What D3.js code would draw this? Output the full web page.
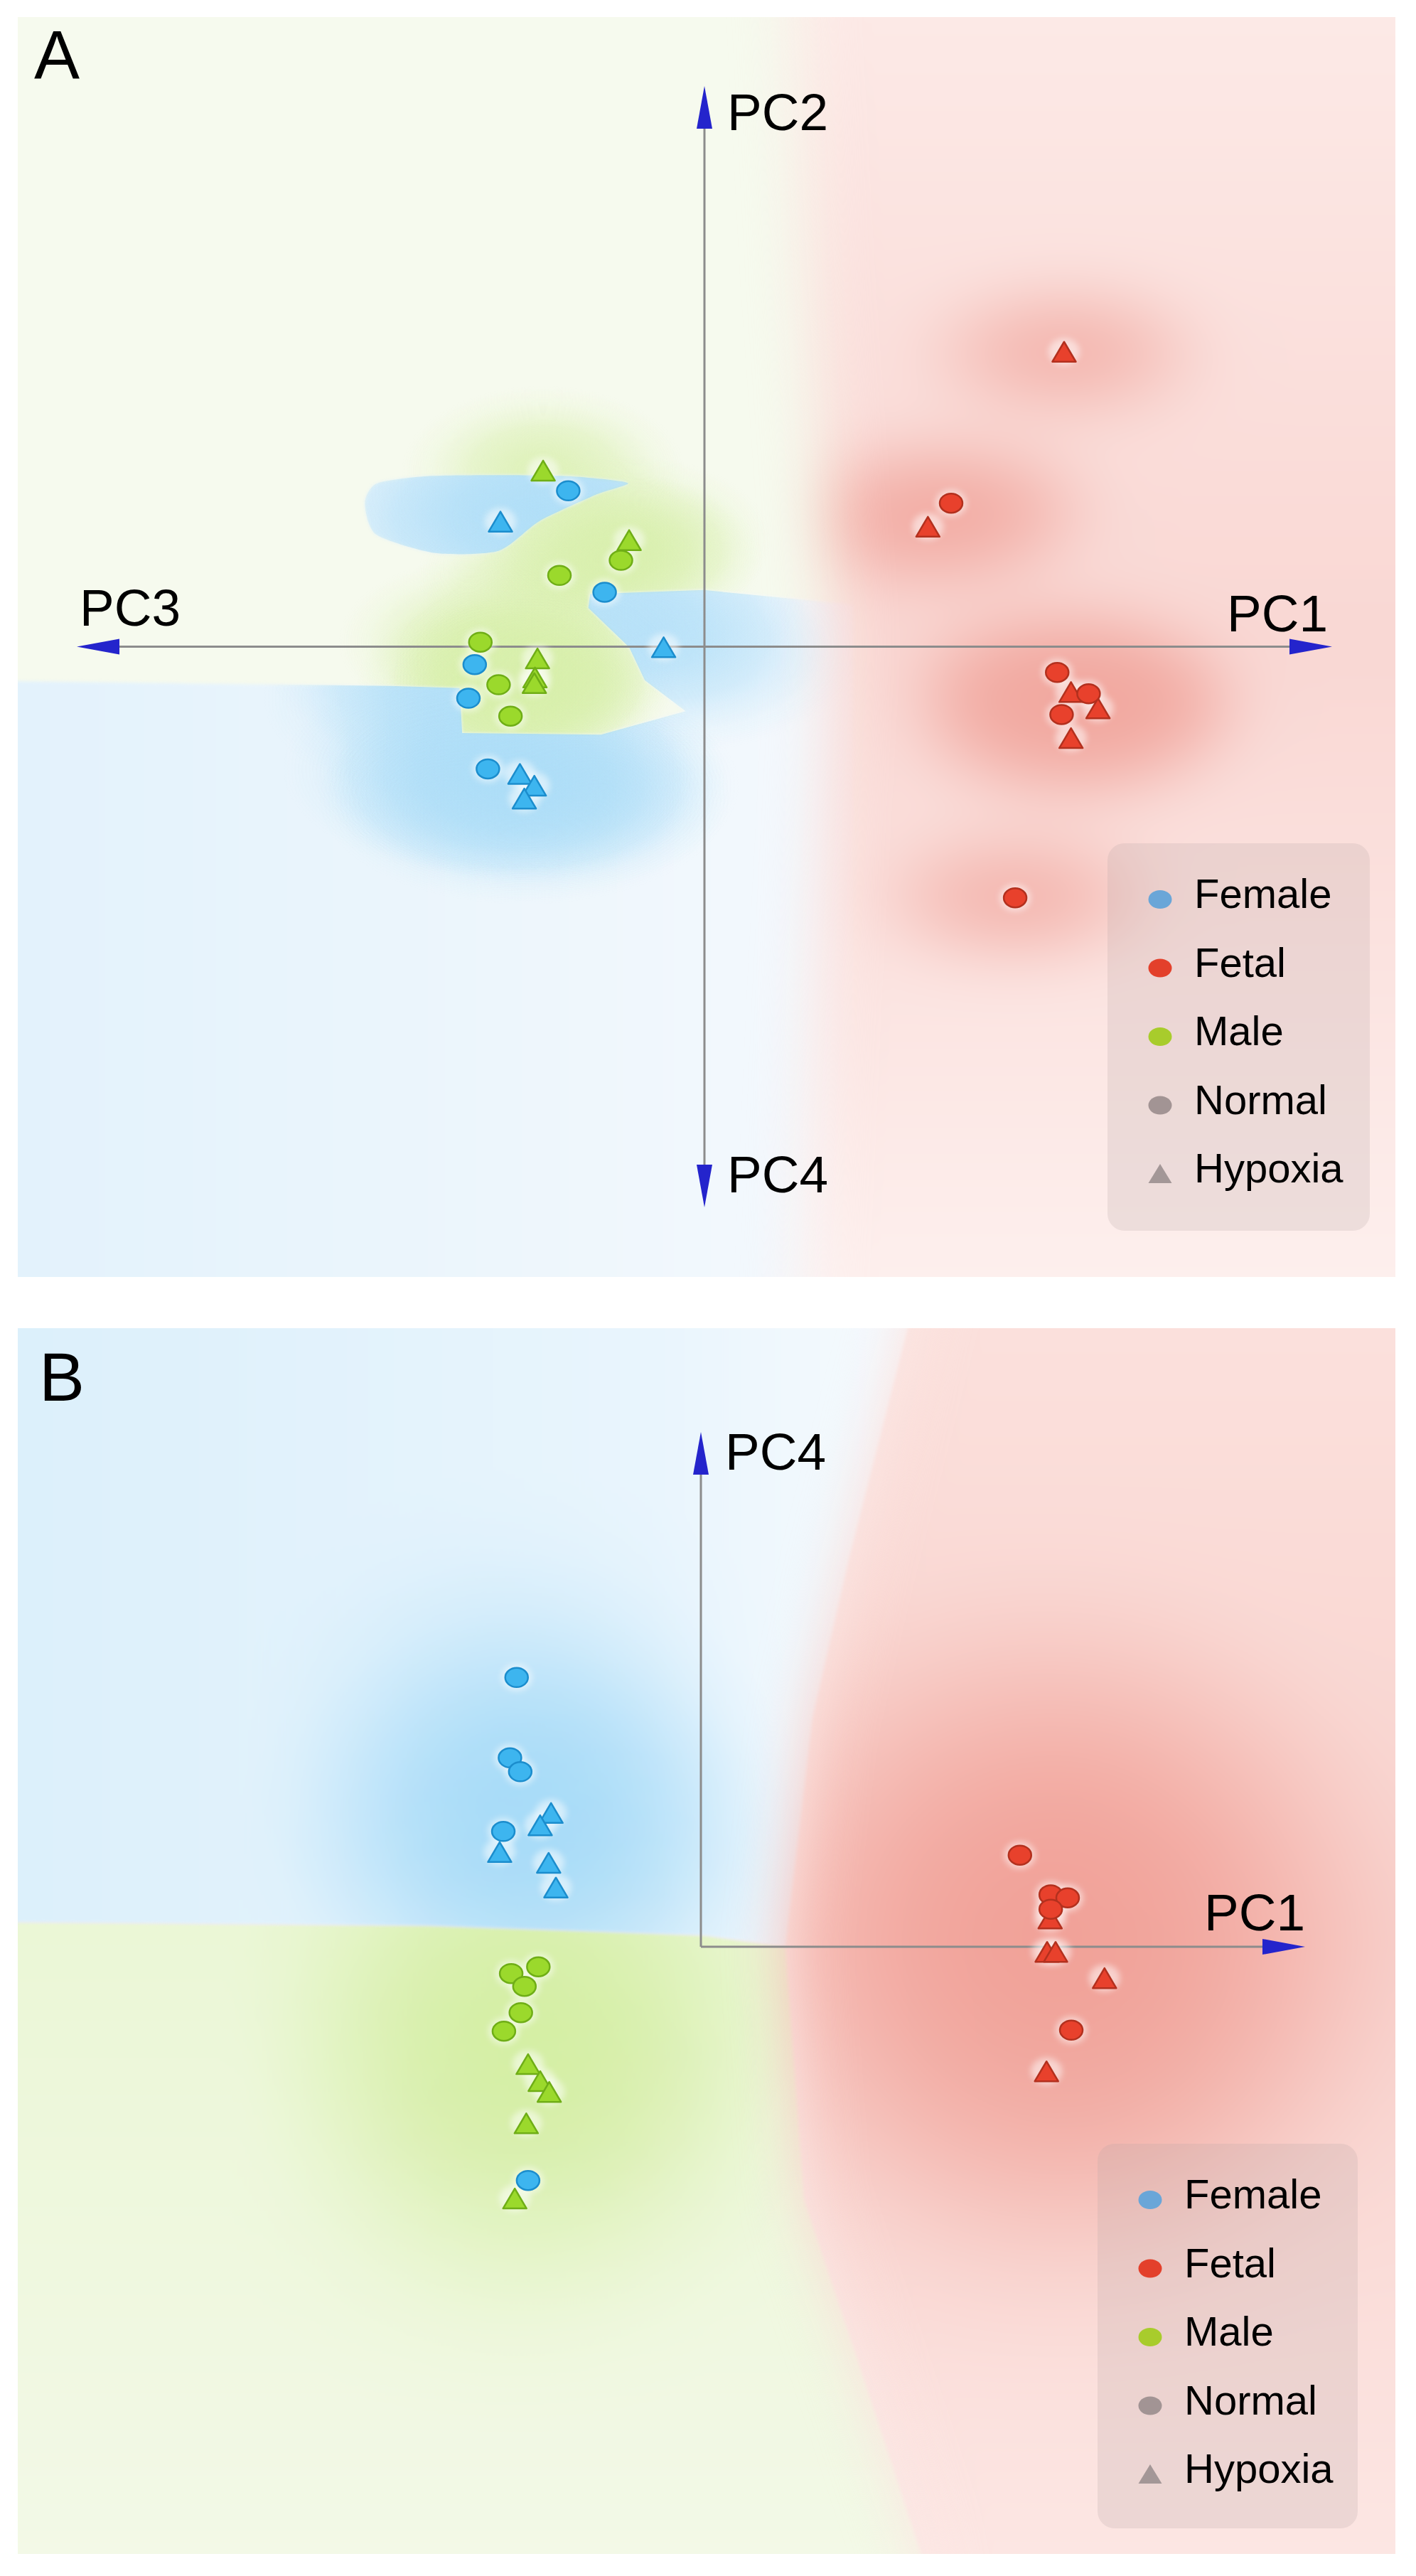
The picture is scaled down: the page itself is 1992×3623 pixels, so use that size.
<!DOCTYPE html>
<html>
<head>
<meta charset="utf-8">
<title>PCA class maps</title>
<script src="https://cdn.jsdelivr.net/npm/d3@7"></script>
<style>
  body { margin: 0; background: #fff; }
  svg { display: block; }
  text { font-family: "Liberation Sans", Arial, "DejaVu Sans", sans-serif; fill: #000; }
</style>
</head>
<body>
<div id="chart"></div>
<script>
// values, in axis units (0 = crossing of the PC axes)
// panel A: horizontal = PC1 (right) / PC3 (left), vertical = PC2 (up) / PC4 (down)
const aFemaleNormal  = [[-2.17, 2.78], [-1.59, 0.97], [-3.66, -0.32], [-3.76, -0.92], [-3.45, -2.18]];
const aFemaleHypoxia = [[-3.25, 2.23], [-0.65, -0.01], [-2.94, -2.27], [-2.71, -2.48], [-2.87, -2.71]];
const aMaleNormal    = [[-1.33, 1.54], [-2.31, 1.27], [-3.57, 0.08], [-3.28, -0.68], [-3.09, -1.24]];
const aMaleHypoxia   = [[-2.57, 3.14], [-1.20, 1.90], [-2.66, -0.21], [-2.70, -0.55], [-2.71, -0.65]];
const aFetalNormal   = [[3.93, 2.56], [5.62, -0.46], [6.12, -0.84], [5.69, -1.21], [4.95, -4.48]];
const aFetalHypoxia  = [[5.73, 5.26], [3.56, 2.14], [5.84, -0.81], [6.27, -1.10], [5.84, -1.63]];

// panel B: horizontal = PC1, vertical = PC4
const bFemaleNormal  = [[-3.05, 5.23], [-3.16, 3.67], [-2.99, 3.40], [-3.27, 2.24], [-2.86, -4.54]];
const bFemaleHypoxia = [[-2.48, 2.60], [-2.66, 2.36], [-3.33, 1.84], [-2.52, 1.63], [-2.40, 1.15]];
const bMaleNormal    = [[-2.69, -0.39], [-3.14, -0.52], [-2.92, -0.77], [-2.98, -1.28], [-3.26, -1.64]];
const bMaleHypoxia   = [[-2.86, -2.28], [-2.66, -2.61], [-2.51, -2.82], [-2.89, -3.43], [-3.08, -4.89]];
const bFetalNormal   = [[5.28, 1.78], [5.79, 1.01], [6.07, 0.95], [5.79, 0.73], [6.13, -1.62]];
const bFetalHypoxia  = [[5.78, 0.55], [5.73, -0.10], [5.87, -0.10], [6.68, -0.61], [5.72, -2.42]];

const legendLabels = ['Female', 'Fetal', 'Male', 'Normal', 'Hypoxia'];
const panelLabels  = ['A', 'B'];
const axisLabelsA  = ['PC1', 'PC2', 'PC3', 'PC4'];   // right, up, left, down
const axisLabelsB  = ['PC1', 'PC4'];                 // right, up

// class regions of the background maps (same axis units)
const aBlueRegion  = [[-13.49, -0.58], [-4.99, -0.70], [-3.90, -0.74], [-3.86, -1.54], [-1.65, -1.57], [-0.30, -1.15],
                      [-0.95, -0.60], [-1.20, -0.01], [-1.85, 0.69], [-1.82, 0.94], [-0.01, 1.01], [2.37, 0.75],
                      [2.37, -13.83], [-13.49, -13.83]];
const aBlueLens    = [[-5.41, 2.56], [-5.22, 2.91], [-4.43, 3.04], [-3.30, 3.06], [-2.16, 3.04], [-1.22, 2.92],
                      [-1.71, 2.72], [-2.63, 2.24], [-3.28, 1.71], [-4.29, 1.67], [-5.23, 2.00]];
const aFetalRegion = [[1.35, 12.8], [12.56, 12.8], [12.56, -12.56], [1.5, -12.56], [1.75, -6.22], [2.05, 0.12], [1.65, 6.46]];
const bBlueRegion  = [[-13.95, 14.34], [3.93, 14.34], [2.46, 7.57], [1.85, 4.45], [1.40, 0.00], [0.05, 0.22], [-4.54, 0.41], [-13.95, 0.50]];
const bMaleRegion  = [[-13.95, 0.50], [-4.54, 0.41], [0.05, 0.22], [1.40, 0.00], [1.71, -4.92], [2.60, -8.04], [3.65, -11.80],
                      [3.93, -14.67], [-13.95, -14.67]];
const bFetalRegion = [[3.93, 14.34], [13.69, 14.34], [13.69, -14.67], [3.93, -14.67], [3.65, -11.80], [2.60, -8.04],
                      [1.71, -4.92], [1.40, 0.00], [1.85, 4.45], [2.46, 7.57]];

const series = [
  { panel: 'A', group: 'Female', cond: 'Normal',  values: aFemaleNormal },
  { panel: 'A', group: 'Female', cond: 'Hypoxia', values: aFemaleHypoxia },
  { panel: 'A', group: 'Male',   cond: 'Normal',  values: aMaleNormal },
  { panel: 'A', group: 'Male',   cond: 'Hypoxia', values: aMaleHypoxia },
  { panel: 'A', group: 'Fetal',  cond: 'Normal',  values: aFetalNormal },
  { panel: 'A', group: 'Fetal',  cond: 'Hypoxia', values: aFetalHypoxia },
  { panel: 'B', group: 'Female', cond: 'Normal',  values: bFemaleNormal },
  { panel: 'B', group: 'Female', cond: 'Hypoxia', values: bFemaleHypoxia },
  { panel: 'B', group: 'Male',   cond: 'Normal',  values: bMaleNormal },
  { panel: 'B', group: 'Male',   cond: 'Hypoxia', values: bMaleHypoxia },
  { panel: 'B', group: 'Fetal',  cond: 'Normal',  values: bFetalNormal },
  { panel: 'B', group: 'Fetal',  cond: 'Hypoxia', values: bFetalHypoxia }
];
const points = series.flatMap(s => s.values.map(v => ({ panel: s.panel, group: s.group, cond: s.cond, x: v[0], y: v[1] })));

const groupStyle = {
  Female: { fill: '#3db5ef', stroke: '#1b8dcd', blob: '#9ad6f6' },
  Fetal:  { fill: '#e8412c', stroke: '#b3301e', blob: '#ef9a90' },
  Male:   { fill: '#9bd92c', stroke: '#6fae16', blob: '#cfec98' }
};
const legendColors = ['#6aa6d8', '#e3402b', '#a8cc2c', '#a29494', '#a39797'];

const W = 1992, H = 3623;

// blob: [rx, ry, opacity, cap overlapping]
const panels = [
  { key: 'A', box: [25, 24, 1963, 1796],
    x: d3.scaleLinear().domain([-10, 10]).range([108, 1874]),
    y: d3.scaleLinear().domain([-10, 10]).range([1698, 121]),
    ends: ['right', 'up', 'left', 'down'], names: axisLabelsA,
    labelOff: { right: [-6, -22, 'end'], up: [32, 62, 'start'], left: [4, -30, 'start'], down: [32, -21, 'start'] },
    letter: [48, 110], base: '#f6faee',
    legend: [1558, 1186, 369, 545],
    blob: { Female: [290, 150, 0.75, true], Fetal: [240, 115, 1, true], Male: [200, 120, 0.85, true] } },
  { key: 'B', box: [25, 1868, 1963, 3592],
    x: d3.scaleLinear().domain([0, 10]).range([986, 1836]),
    y: d3.scaleLinear().domain([0, 10]).range([2738, 2014]),
    ends: ['right', 'up'], names: axisLabelsB,
    labelOff: { right: [0, -23, 'end'], up: [34, 53, 'start'] },
    letter: [55, 1970], base: '#fbe9e6',
    legend: [1544, 3015, 366, 541],
    blob: { Female: [380, 300, 0.42, false], Fetal: [530, 490, 0.4, false], Male: [410, 340, 0.36, false] } }
];

const svg = d3.select('#chart').append('svg').attr('width', W).attr('height', H);
const defs = svg.append('defs');

// soft radial fade for the density blobs
Object.keys(groupStyle).forEach(k => {
  const rg = defs.append('radialGradient').attr('id', 'blob-' + k);
  [[0, 0.5], [0.2, 0.45], [0.4, 0.32], [0.6, 0.17], [0.8, 0.06], [1, 0]].forEach(s => {
    rg.append('stop').attr('offset', s[0]).attr('stop-color', groupStyle[k].blob).attr('stop-opacity', s[1]);
  });
});

function linGrad(id, x1, y1, x2, y2, stops) {
  const lg = defs.append('linearGradient').attr('id', id).attr('gradientUnits', 'userSpaceOnUse')
    .attr('x1', x1).attr('y1', y1).attr('x2', x2).attr('y2', y2);
  stops.forEach(s => lg.append('stop').attr('offset', s[0]).attr('stop-color', s[1]));
}
linGrad('pinkA', 0, 24, 0, 1796, [[0, '#fce9e6'], [0.5, '#f9d7d3'], [1, '#fdefed']]);
linGrad('blueA', 25, 0, 1150, 0, [[0, '#e3f2fc'], [1, '#f4f9fd']]);
linGrad('pinkB', 0, 1868, 0, 3592, [[0, '#fbe0dc'], [0.5, '#f8d2cd'], [1, '#fce6e3']]);
linGrad('blueB', 25, 0, 1300, 0, [[0, '#dcf0fb'], [0.7, '#e9f5fd'], [1, '#f7fbfe']]);
linGrad('greenB', 0, 2700, 0, 3592, [[0, '#ebf7d6'], [1, '#f3f9e7']]);

function filter(id) {
  return defs.append('filter').attr('id', id).attr('filterUnits', 'userSpaceOnUse')
    .attr('x', -300).attr('y', -300).attr('width', W + 600).attr('height', H + 600)
    .attr('color-interpolation-filters', 'sRGB');
}
// overlapping blobs of one class should not stack much darker
filter('cap').append('feComponentTransfer').append('feFuncA').attr('type', 'table')
  .attr('tableValues', '0 0.38 0.58 0.7 0.76 0.78');
filter('soft').append('feGaussianBlur').attr('stdDeviation', 40);
filter('edge').append('feGaussianBlur').attr('stdDeviation', 2);
filter('halo').append('feGaussianBlur').attr('stdDeviation', 4);

function blobs(g, p, group) {
  const r = p.blob[group];
  const bg = g.append('g');
  if (r[3]) bg.attr('filter', 'url(#cap)');
  bg.selectAll('ellipse')
    .data(points.filter(d => d.panel === p.key && d.group === group))
    .enter().append('ellipse')
    .attr('cx', d => p.x(d.x)).attr('cy', d => p.y(d.y))
    .attr('rx', r[0]).attr('ry', r[1])
    .attr('fill', 'url(#blob-' + group + ')')
    .attr('fill-opacity', r[2]);
}

function drawPanel(p) {
  const line = d3.line().x(d => p.x(d[0])).y(d => p.y(d[1])).curve(d3.curveLinearClosed);
  const smooth = d3.line().x(d => p.x(d[0])).y(d => p.y(d[1])).curve(d3.curveCardinalClosed.tension(0.3));
  const [x0, y0, x1, y1] = p.box;

  defs.append('clipPath').attr('id', 'clip-' + p.key)
    .append('rect').attr('x', x0).attr('y', y0).attr('width', x1 - x0).attr('height', y1 - y0);

  const bg = svg.append('g').attr('clip-path', 'url(#clip-' + p.key + ')');
  bg.append('rect').attr('x', x0).attr('y', y0).attr('width', x1 - x0).attr('height', y1 - y0).attr('fill', p.base);

  if (p.key === 'A') {
    blobs(bg, p, 'Male');

    const blue = bg.append('g').attr('filter', 'url(#edge)');
    blue.append('path').attr('d', line(aBlueRegion)).attr('fill', 'url(#blueA)');
    blue.append('path').attr('d', smooth(aBlueLens)).attr('fill', '#e3f2fb');
    const cp = defs.append('clipPath').attr('id', 'blue-A');
    cp.append('path').attr('d', line(aBlueRegion));
    cp.append('path').attr('d', smooth(aBlueLens));
    blobs(bg.append('g').attr('clip-path', 'url(#blue-A)'), p, 'Female');

    const red = bg.append('g').attr('filter', 'url(#soft)');
    red.append('path').attr('d', line(aFetalRegion)).attr('fill', 'url(#pinkA)');
    defs.append('clipPath').attr('id', 'red-A').append('path').attr('d', line(aFetalRegion));
    blobs(red.append('g').attr('clip-path', 'url(#red-A)'), p, 'Fetal');
  } else {
    const green = bg.append('g').attr('filter', 'url(#edge)');
    green.append('path').attr('d', line(bMaleRegion)).attr('fill', 'url(#greenB)');
    defs.append('clipPath').attr('id', 'green-B').append('path').attr('d', line(bMaleRegion));
    blobs(green.append('g').attr('clip-path', 'url(#green-B)'), p, 'Male');

    const blue = bg.append('g').attr('filter', 'url(#edge)');
    blue.append('path').attr('d', line(bBlueRegion)).attr('fill', 'url(#blueB)');
    defs.append('clipPath').attr('id', 'blue-B').append('path').attr('d', line(bBlueRegion));
    blobs(blue.append('g').attr('clip-path', 'url(#blue-B)'), p, 'Female');

    const red = bg.append('g').attr('filter', 'url(#soft)');
    red.append('path').attr('d', line(bFetalRegion)).attr('fill', 'url(#pinkB)');
    defs.append('clipPath').attr('id', 'red-B').append('path').attr('d', line(bFetalRegion));
    blobs(red.append('g').attr('clip-path', 'url(#red-B)'), p, 'Fetal');
  }

  // axes with arrow heads
  const ox = p.x(0), oy = p.y(0);
  const tips = {
    right: [p.x(10), oy, 1, 0], left: [p.x(-10), oy, -1, 0],
    up: [ox, p.y(10), 0, -1], down: [ox, p.y(-10), 0, 1]
  };
  const ax = svg.append('g');
  const headLen = 60, headW = 11;
  p.ends.forEach((e, i) => {
    const [tx, ty, dx, dy] = tips[e];
    const bx = tx - dx * headLen, by = ty - dy * headLen;
    ax.append('line').attr('x1', ox).attr('y1', oy).attr('x2', tx - dx * 20).attr('y2', ty - dy * 20)
      .attr('stroke', '#8c8c8c').attr('stroke-width', 3);
    ax.append('path')
      .attr('d', `M${tx},${ty}L${bx - dy * headW},${by + dx * headW}L${bx + dy * headW},${by - dx * headW}Z`)
      .attr('fill', '#2424cc');
    const off = p.labelOff[e];
    ax.append('text').attr('x', tx + off[0]).attr('y', ty + off[1]).attr('text-anchor', off[2])
      .attr('font-size', 73).text(p.names[i]);
  });

  svg.append('text').attr('x', p.letter[0]).attr('y', p.letter[1]).attr('font-size', 96)
    .text(panelLabels[p.key === 'A' ? 0 : 1]);

  // samples: triangles (hypoxia) under circles (normal)
  const pts = points.filter(d => d.panel === p.key)
    .sort((a, b) => (a.cond === 'Hypoxia' ? 0 : 1) - (b.cond === 'Hypoxia' ? 0 : 1));
  svg.append('g').attr('filter', 'url(#halo)').selectAll('ellipse').data(pts).enter().append('ellipse')
    .attr('cx', d => p.x(d.x)).attr('cy', d => p.y(d.y)).attr('rx', 22).attr('ry', 19)
    .attr('fill', '#ffffff').attr('opacity', 0.5);
  const marks = svg.append('g');
  pts.forEach(d => {
    const cx = p.x(d.x), cy = p.y(d.y), st = groupStyle[d.group];
    const m = d.cond === 'Hypoxia'
      ? marks.append('path').attr('d', `M${cx - 16.5},${cy + 14}L${cx + 16.5},${cy + 14}L${cx},${cy - 14}Z`)
      : marks.append('ellipse').attr('cx', cx).attr('cy', cy).attr('rx', 16).attr('ry', 13.5);
    m.attr('fill', st.fill).attr('stroke', st.stroke).attr('stroke-width', 2.5).attr('stroke-linejoin', 'round');
  });

  // legend
  const [lx, ly, lw, lh] = p.legend;
  const lg = svg.append('g');
  lg.append('rect').attr('x', lx).attr('y', ly).attr('width', lw).attr('height', lh).attr('rx', 24)
    .attr('fill', '#b4a6a6').attr('fill-opacity', 0.22);
  legendLabels.forEach((name, i) => {
    const my = ly + 79 + i * 96.5, mx = lx + 74;
    if (name === 'Hypoxia') {
      lg.append('path').attr('d', `M${mx - 16.5},${my + 13}L${mx + 16.5},${my + 13}L${mx},${my - 14}Z`).attr('fill', legendColors[i]);
    } else {
      lg.append('ellipse').attr('cx', mx).attr('cy', my).attr('rx', 16.5).attr('ry', 13).attr('fill', legendColors[i]);
    }
    lg.append('text').attr('x', lx + 122).attr('y', my + 12).attr('font-size', 58).text(name);
  });
}

panels.forEach(drawPanel);
</script>
</body>
</html>
